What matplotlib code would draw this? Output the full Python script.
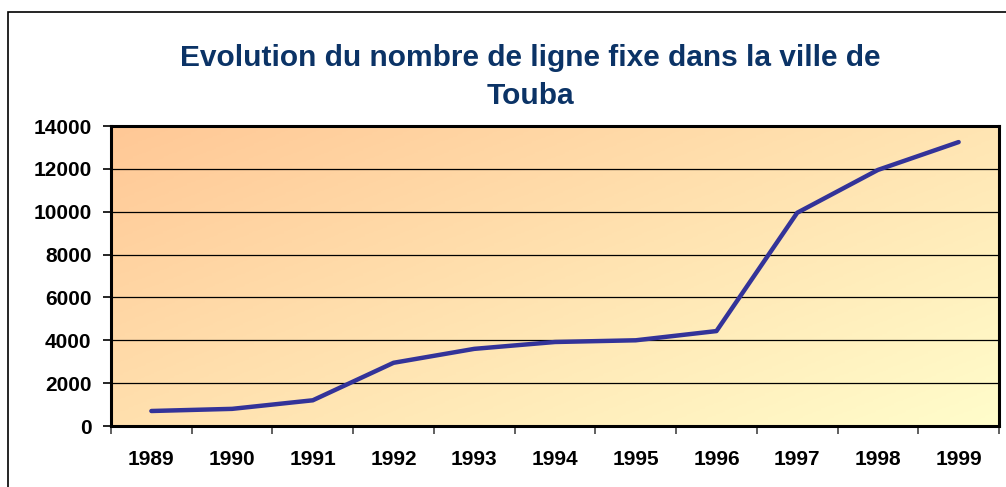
import numpy as np
import matplotlib.pyplot as plt
from matplotlib.colors import LinearSegmentedColormap
from matplotlib.patches import Rectangle

years = ["1989", "1990", "1991", "1992", "1993", "1994",
         "1995", "1996", "1997", "1998", "1999"]
lignes = [700, 800, 1200, 2950, 3600, 3920, 4000, 4430, 9950, 11950, 13250]
y_ticks = [0, 2000, 4000, 6000, 8000, 10000, 12000, 14000]

plt.rcParams["font.family"] = ["Liberation Sans", "DejaVu Sans"]

fig = plt.figure(figsize=(10.06, 4.87), dpi=100)
ax = fig.add_axes([111 / 1006, 61 / 487, 888 / 1006, 300 / 487])

# figure border (only left and top visible in the reference)
fig.patches.append(Rectangle((8 / 1006, -0.2), 1.2, 0.2 + 1 - 12 / 487,
                             transform=fig.transFigure, fill=False,
                             edgecolor="black", linewidth=1.2, zorder=0))

# diagonal gradient background
cmap = LinearSegmentedColormap.from_list("bg", ["#FFC896", "#FFFDCB"])
gx, gy = np.meshgrid(np.linspace(0, 1, 200), np.linspace(0, 1, 200))
grad = gx * 0.55 + (1 - gy) * 0.45
ax.imshow(grad, cmap=cmap, extent=[0, 1, 0, 1], transform=ax.transAxes,
          aspect="auto", zorder=0, origin="lower")

x = np.arange(len(years))
ax.set_xlim(-0.5, len(years) - 0.5)
ax.set_ylim(0, 14000)

for v in y_ticks[1:-1]:
    ax.axhline(v, color="black", linewidth=0.9, zorder=1)

ax.plot(x, lignes, color="#333399", linewidth=3.2, zorder=3,
        solid_capstyle="round", solid_joinstyle="round")

ax.set_yticks(y_ticks)
ax.set_yticklabels([str(v) for v in y_ticks], fontsize=15, fontweight="bold")
ax.set_xticks(np.arange(len(years) + 1) - 0.5)
ax.set_xticklabels([])
ax.set_xticks(x, minor=True)
ax.set_xticklabels(years, minor=True, fontsize=15, fontweight="bold")
ax.tick_params(axis="x", which="minor", length=0, pad=17)
ax.tick_params(axis="x", which="major", length=6, width=1.2, color="#444444")
ax.tick_params(axis="y", length=6, width=1.2, pad=8)

for s in ax.spines.values():
    s.set_linewidth(2.2)
    s.set_zorder(4)

fig.text(0.527, 1 - 58 / 487, "Evolution du nombre de ligne fixe dans la ville de",
         ha="center", va="center", fontsize=21.5, fontweight="bold", color="#0B3366")
fig.text(0.527, 1 - 96 / 487, "Touba",
         ha="center", va="center", fontsize=21.5, fontweight="bold", color="#0B3366")

fig.savefig("out.png", dpi=100)
